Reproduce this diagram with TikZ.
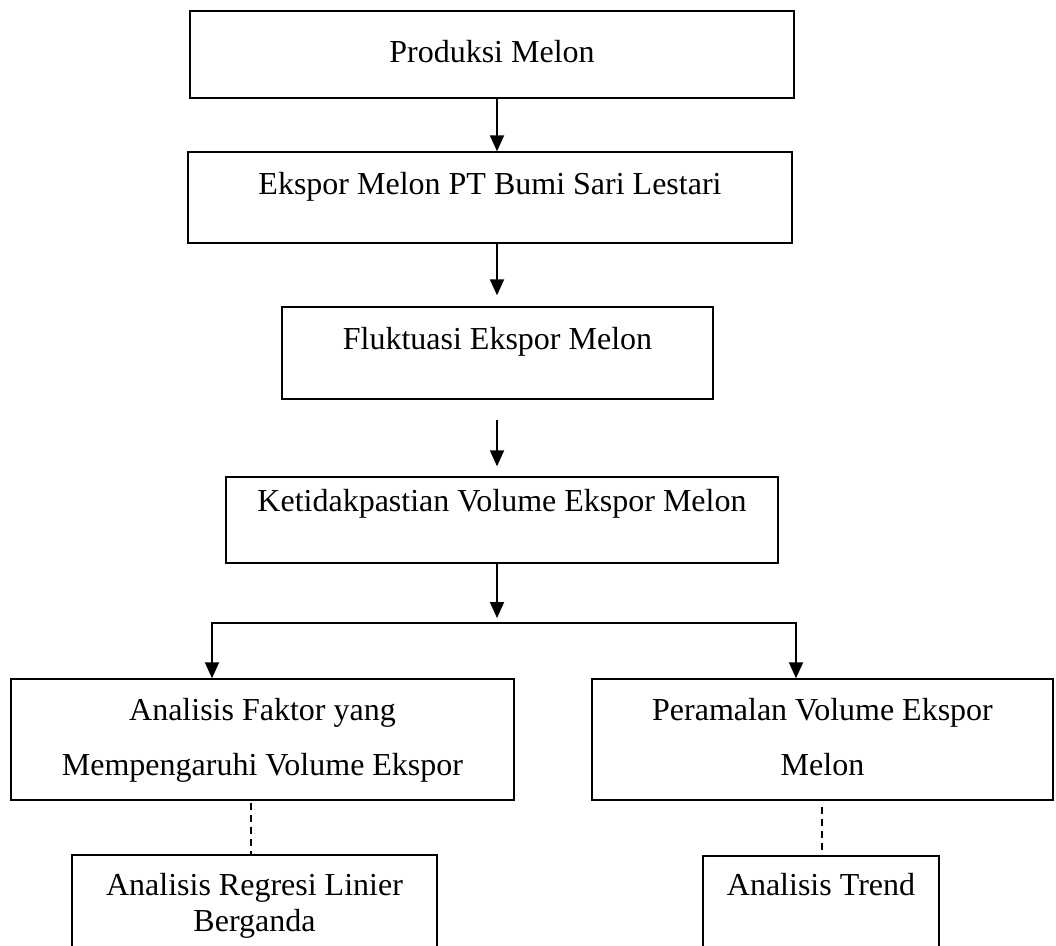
\documentclass[tikz,border=0pt]{standalone}
\usepackage{fontspec}
\setmainfont{Liberation Serif}
\usetikzlibrary{arrows.meta,calc}
\begin{document}
\begin{tikzpicture}[x=1pt,y=-1pt,
  box/.style={draw, line width=1.4pt, rectangle, inner sep=0pt},
  txt/.style={font=\fontsize{32}{36}\selectfont, anchor=base, inner sep=0pt},
  arr/.style={line width=1.9pt, -{Triangle[length=16pt,width=14pt]}},
  conn/.style={line width=1.9pt},
  dashline/.style={line width=1.3pt, dash pattern=on 7pt off 5pt}]
\useasboundingbox (0,0) rectangle (1056,945);
\clip (0,0) rectangle (1056,945);
% boxes
\node[box, minimum width=604pt, minimum height=87pt]  (B1) at (492,54.5) {};
\node[box, minimum width=604pt, minimum height=91pt]  (B2) at (490,197.5) {};
\node[box, minimum width=431pt, minimum height=92pt]  (B3) at (497.5,353) {};
\node[box, minimum width=552pt, minimum height=86pt]  (B4) at (502,520) {};
\node[box, minimum width=503pt, minimum height=121pt] (B5) at (262.5,739.5) {};
\node[box, minimum width=461pt, minimum height=121pt] (B6) at (822.5,739.5) {};
\node[box, minimum width=365pt, minimum height=145pt] (B7) at (254.5,927.5) {};
\node[box, minimum width=236pt, minimum height=144pt] (B8) at (821,928) {};
% texts
\node[txt] (T1) at (492,62) {Produksi Melon};
\node[txt] (T2) at (490,194) {Ekspor Melon PT Bumi Sari Lestari};
\node[txt] (T3) at (497.5,349) {Fluktuasi Ekspor Melon};
\node[txt] (T4) at (502,511) {Ketidakpastian Volume Ekspor Melon};
\node[txt] (T5a) at (262.5,720) {Analisis Faktor yang};
\node[txt] (T5b) at (262.5,775) {Mempengaruhi Volume Ekspor};
\node[txt] (T6a) at (822.5,720) {Peramalan Volume Ekspor};
\node[txt] (T6b) at (822.5,775) {Melon};
\node[txt] (T7a) at (254.5,895) {Analisis Regresi Linier};
\node[txt] (T7b) at (254.5,931) {Berganda};
\node[txt] (T8) at (821,895) {Analisis Trend};
% coordinates
\coordinate (cA) at (497,0);
\coordinate (J) at (497,623);
\coordinate (L) at (212,623);
\coordinate (R) at (796,623);
\coordinate (d1) at (251,0);
\coordinate (d2) at (822,0);
% connectors
\draw[arr] (B1.south -| cA) -- (B2.north -| cA);
\draw[arr] (B2.south -| cA) -- ($(B3.north -| cA)+(0,-11)$);
\draw[arr] ($(B3.south -| cA)+(0,20)$) -- ($(B4.north -| cA)+(0,-10)$);
\draw[arr] (B4.south -| cA) -- ($(J)+(0,-5)$);
\draw[conn] ([xshift=-0.95pt]L) -- ([xshift=0.95pt]R);
\draw[arr] (L) -- (B5.north -| L);
\draw[arr] (R) -- (B6.north -| R);
\draw[dashline] ($(B5.south -| d1)+(0,2)$) -- (B7.north -| d1);
\draw[dashline] ($(B6.south -| d2)+(0,6)$) -- (B8.north -| d2);
\end{tikzpicture}
\end{document}
